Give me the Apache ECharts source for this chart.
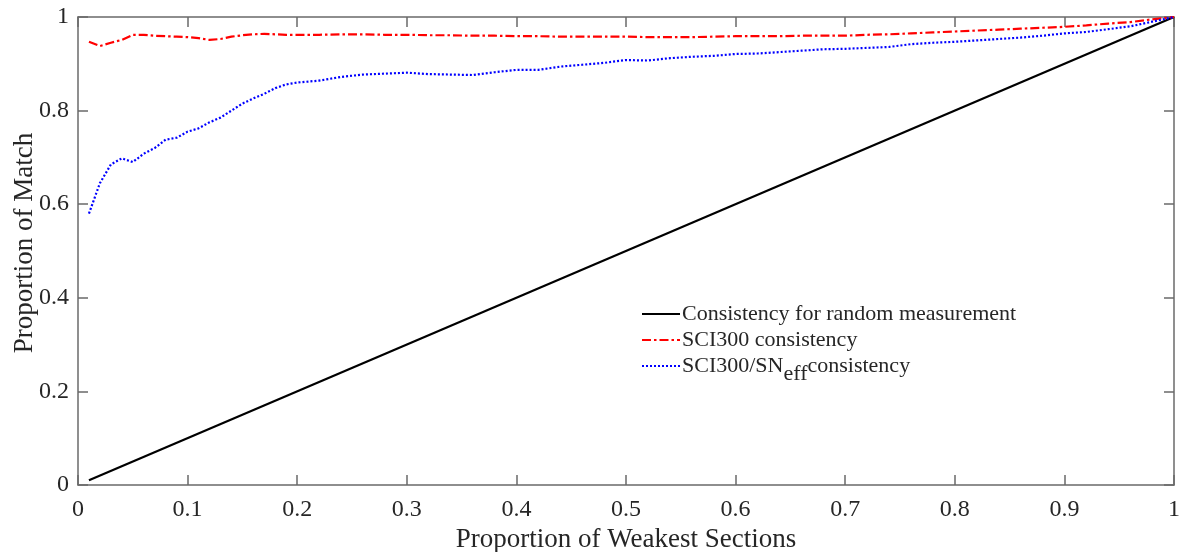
<!DOCTYPE html>
<html>
<head>
<meta charset="utf-8">
<script src="https://cdn.jsdelivr.net/npm/echarts@6/dist/echarts.min.js"></script>
<style>
html,body{margin:0;padding:0;background:#fff;}
#chart{width:1179px;height:552px;}
</style>
</head>
<body>
<div id="chart"></div>
<script>
// Proportion of weakest sections (x)
const xValues = [0.01,0.02,0.03,0.04,0.05,0.06,0.07,0.08,0.09,0.10,
  0.11,0.12,0.13,0.14,0.15,0.16,0.17,0.18,0.19,0.20,
  0.22,0.24,0.26,0.28,0.30,0.32,0.34,0.36,0.38,0.40,
  0.42,0.44,0.46,0.48,0.50,0.52,0.54,0.56,0.58,0.60,
  0.62,0.64,0.66,0.68,0.70,0.72,0.74,0.76,0.78,0.80,
  0.82,0.84,0.86,0.88,0.90,0.92,0.94,0.96,0.98,1.00];
// SCI300 consistency (red dash-dot)
const sciValues = [0.947,0.938,0.945,0.951,0.962,0.962,0.960,0.959,0.958,0.957,
  0.955,0.951,0.953,0.958,0.961,0.963,0.964,0.963,0.962,0.962,
  0.962,0.963,0.963,0.962,0.962,0.961,0.961,0.960,0.960,0.959,
  0.959,0.958,0.958,0.958,0.958,0.957,0.957,0.957,0.958,0.959,
  0.959,0.959,0.960,0.960,0.960,0.962,0.963,0.965,0.967,0.969,
  0.971,0.973,0.975,0.977,0.979,0.982,0.986,0.989,0.995,1.000];
// SCI300/SNeff consistency (blue dotted)
const sciSnValues = [0.580,0.645,0.685,0.698,0.690,0.708,0.720,0.738,0.742,0.755,
  0.762,0.775,0.785,0.800,0.815,0.826,0.836,0.848,0.856,0.860,
  0.864,0.872,0.877,0.879,0.881,0.878,0.877,0.876,0.882,0.887,
  0.887,0.894,0.898,0.902,0.908,0.907,0.912,0.915,0.917,0.921,
  0.922,0.925,0.928,0.931,0.932,0.934,0.936,0.942,0.945,0.947,
  0.950,0.953,0.956,0.960,0.965,0.968,0.974,0.980,0.990,1.000];
// Consistency for random measurement (straight line endpoints)
const randomX = [0.01, 1.00];
const randomY = [0.01, 1.00];

const xTicks = ['0','0.1','0.2','0.3','0.4','0.5','0.6','0.7','0.8','0.9','1'];
const yTicks = ['0','0.2','0.4','0.6','0.8','1'];

const names = ['Consistency for random measurement','SCI300 consistency','SCI300/SN{sub|eff}consistency'];

const zip = (xs, ys) => xs.map((x, i) => [x, ys[i]]);

const font = 'Liberation Serif';
const axisColor = '#6a6a6a';
const textColor = '#262626';

const chart = echarts.init(document.getElementById('chart'), null, {renderer: 'canvas'});

const baseX = {
  type: 'value', min: 0, max: 1, interval: 0.1,
  axisLine: {show: true, onZero: false, lineStyle: {color: axisColor, width: 1.5}},
  axisTick: {show: true, inside: true, length: 10, lineStyle: {color: axisColor, width: 1.5}},
  splitLine: {show: false}
};
const baseY = {
  type: 'value', min: 0, max: 1, interval: 0.2,
  axisLine: {show: true, onZero: false, lineStyle: {color: axisColor, width: 1.5}},
  axisTick: {show: true, inside: true, length: 10, lineStyle: {color: axisColor, width: 1.5}},
  splitLine: {show: false}
};

chart.setOption({
  animation: false,
  backgroundColor: '#fff',
  grid: {left: 78, right: 5, top: 17, bottom: 67, containLabel: false, outerBoundsMode: 'none'},
  xAxis: [
    Object.assign({}, baseX, {
      position: 'bottom',
      name: 'Proportion of Weakest Sections',
      nameLocation: 'middle', nameGap: 41,
      nameTextStyle: {fontFamily: font, fontSize: 27, color: textColor},
      axisLabel: {show: true, margin: 13, fontFamily: font, fontSize: 24, color: textColor,
        formatter: (v) => xTicks[Math.round(v * 10)]}
    }),
    Object.assign({}, baseX, {position: 'top', axisLabel: {show: false}})
  ],
  yAxis: [
    Object.assign({}, baseY, {
      position: 'left',
      name: 'Proportion of Match',
      nameLocation: 'middle', nameGap: 40, nameMoveOverlap: false,
      nameTextStyle: {fontFamily: font, fontSize: 27, color: textColor, padding: [0, 0, 0, 16]},
      axisLabel: {show: true, margin: 9, fontFamily: font, fontSize: 24, color: textColor,
        formatter: (v) => yTicks[Math.round(v * 5)]}
    }),
    Object.assign({}, baseY, {position: 'right', axisLabel: {show: false}})
  ],
  legend: {
    orient: 'vertical',
    left: 636, top: 298,
    itemWidth: 38, itemHeight: 10, itemGap: 4,
    itemStyle: {opacity: 0, borderWidth: 0},
    data: names,
    textStyle: {fontFamily: font, fontSize: 22, color: textColor, padding: [0,0,0,-3],
      rich: {sub: {fontFamily: font, fontSize: 22, color: textColor, verticalAlign: 'bottom', padding: [16,0,0,0]}}}
  },
  series: [
    {name: names[0], type: 'line', data: zip(randomX, randomY), showSymbol: false, symbol: 'none',
      lineStyle: {color: '#000', width: 2.2}, itemStyle: {color: '#000'}},
    {name: names[1], type: 'line', data: zip(xValues, sciValues), showSymbol: false, symbol: 'none',
      lineStyle: {color: '#ff0000', width: 2.2, type: [9,3,2.5,3]}, itemStyle: {color: '#ff0000'}},
    {name: names[2], type: 'line', data: zip(xValues, sciSnValues), showSymbol: false, symbol: 'none',
      lineStyle: {color: '#0000ff', width: 2.2, type: [2,2]}, itemStyle: {color: '#0000ff'}}
  ]
});
</script>
</body>
</html>
